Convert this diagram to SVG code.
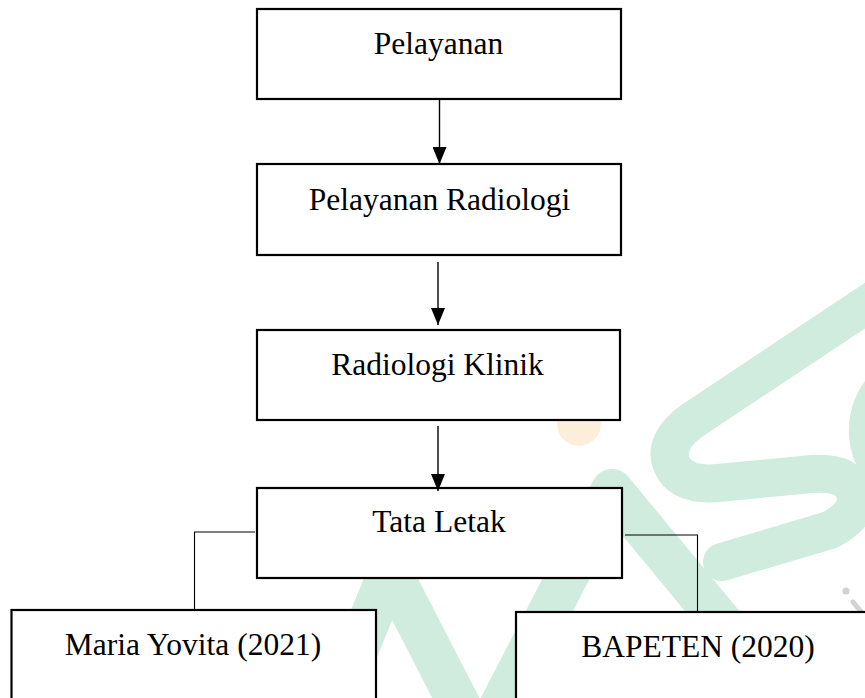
<svg xmlns="http://www.w3.org/2000/svg" width="865" height="698" viewBox="0 0 865 698">
<style>
.box{fill:#ffffff;stroke:#000000;stroke-width:2.2}
.lbl{font-family:"Liberation Serif","Times New Roman",serif;font-size:31.5px;fill:#000000;text-anchor:middle}
.arrow{stroke:#000000;stroke-width:1.4;fill:none}
.link{stroke:#000000;stroke-width:1.1;fill:none}
.wm{fill:none;stroke:#cfecde;stroke-linecap:round;stroke-linejoin:round}
</style>
<defs>
<marker id="ah" viewBox="0 0 17 14" markerWidth="17" markerHeight="14" markerUnits="userSpaceOnUse" refX="17" refY="7" orient="auto">
<path d="M0,0 L17,7 L0,14 z" fill="#000000"/>
</marker>
</defs>
<rect x="0" y="0" width="865" height="698" fill="#ffffff"/>
<g id="watermark">
<path class="wm" stroke-width="42" d="M300,790 L390,570 L480,745 L612,490 L790,705"/>
<path class="wm" stroke-width="38" d="M905,279 L693,420 Q662,442 672,465 Q682,486 718,483 L812,474 Q852,471 856,497 Q858,515 830,530 L722,562"/>
<path class="wm" stroke-width="30" d="M905,365 Q862,392 864,435 Q866,470 905,492"/>
<circle cx="579" cy="424" r="22" fill="#fdeedc"/>
<circle cx="846" cy="591" r="3.6" fill="#d2d2d2"/>
<path d="M853,602 L868,620" stroke="#d2d2d2" stroke-width="5" stroke-linecap="round" fill="none"/>
</g>
<g id="node-pelayanan">
<rect class="box" x="257" y="9" width="364" height="90"/>
<text class="lbl" x="438.5" y="54">Pelayanan</text>
</g>
<g id="node-pelayanan-radiologi">
<rect class="box" x="257" y="164" width="364" height="91"/>
<text class="lbl" x="439.5" y="210">Pelayanan Radiologi</text>
</g>
<g id="node-radiologi-klinik">
<rect class="box" x="257" y="330" width="363" height="90"/>
<text class="lbl" x="437.5" y="375">Radiologi Klinik</text>
</g>
<g id="node-tata-letak">
<rect class="box" x="257" y="488" width="365" height="90"/>
<text class="lbl" x="439" y="532">Tata Letak</text>
</g>
<g id="node-maria-yovita">
<rect class="box" x="11.5" y="610" width="364.5" height="110"/>
<text class="lbl" x="193" y="655">Maria Yovita (2021)</text>
</g>
<g id="node-bapeten">
<rect class="box" x="516" y="612" width="400" height="110"/>
<text class="lbl" x="698" y="657">BAPETEN (2020)</text>
</g>
<g id="connectors">
<line class="arrow" x1="439.5" y1="99" x2="439.5" y2="164" marker-end="url(#ah)"/>
<line class="arrow" x1="438" y1="262" x2="438" y2="325" marker-end="url(#ah)"/>
<line class="arrow" x1="438" y1="426" x2="438" y2="491" marker-end="url(#ah)"/>
<polyline class="link" points="255,532 194.5,532 194.5,610"/>
<polyline class="link" points="625,535 697.5,535 697.5,612"/>
</g>
</svg>
